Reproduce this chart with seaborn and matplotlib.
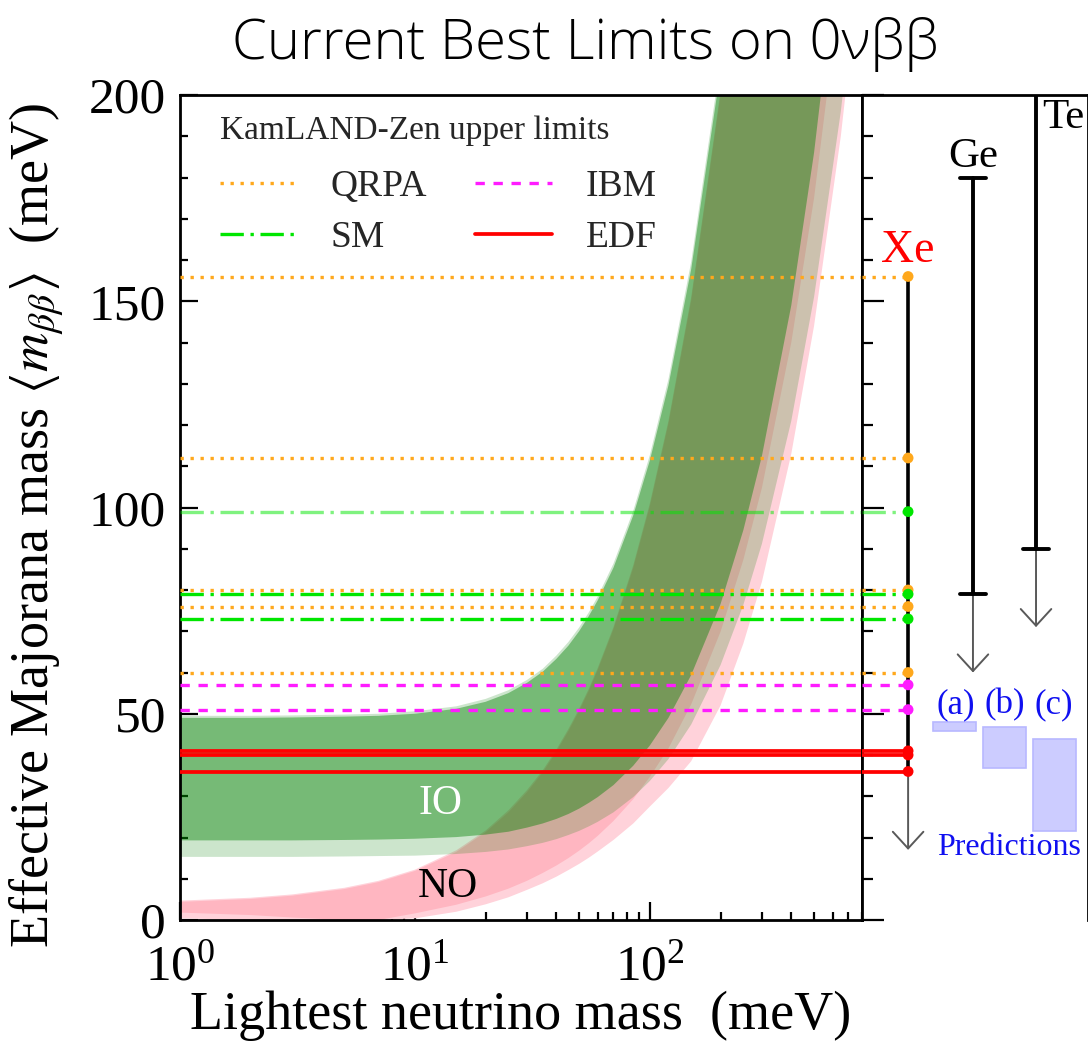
import matplotlib
matplotlib.use("Agg")
import matplotlib.pyplot as plt
from matplotlib.lines import Line2D
from matplotlib.patches import Rectangle
from matplotlib.ticker import MultipleLocator, LogLocator, NullFormatter
import pandas as pd
import seaborn as sns

# ---- band edges of <m_bb> vs lightest neutrino mass (meV) ----
m_lightest = [1, 2, 3, 5, 7, 10, 15, 20, 25, 30, 35, 40, 45, 50, 55, 60, 70, 85, 100, 120,
              150, 200, 250, 300, 400, 500, 650, 800]

io_upper_bf = [49.0, 49.0, 49.1, 49.3, 49.5, 50.0, 51.2, 52.9, 55.0, 57.5, 60.2, 63.3, 66.5,
               70.0, 73.7, 77.5, 85.4, 98.1, 111.4, 129.6, 157.8, 205.9, 254.8, 304.0, 403.0,
               502.4, 651.8, 801.5]
io_lower_bf = [19.3, 19.3, 19.3, 19.4, 19.5, 19.7, 20.1, 20.7, 21.4, 22.4, 23.4, 24.5, 25.7,
               27.0, 28.4, 29.8, 32.7, 37.4, 42.3, 49.0, 59.4, 76.6, 94.5, 112.5, 149.0,
               186.0, 241.0, 297.0]
io_upper_3s = [49.5, 49.5, 49.6, 49.8, 50.0, 50.6, 51.8, 53.6, 55.7, 58.2, 60.9, 64.1, 67.4,
               70.9, 74.6, 78.4, 86.4, 99.2, 112.7, 131.1, 159.6, 208.2, 257.6, 307.3, 407.5,
               508.0, 659.0, 811.0]
io_lower_3s = [15.3, 15.3, 15.3, 15.4, 15.5, 15.6, 16.0, 16.5, 17.1, 17.9, 18.7, 19.6, 20.6,
               21.6, 22.7, 23.8, 26.1, 29.8, 33.7, 39.0, 47.4, 61.8, 76.4, 91.2, 121.0,
               151.0, 196.0, 241.0]

no_upper_bf = [4.4, 5.1, 5.9, 7.5, 9.2, 11.9, 16.5, 21.3, 26.1, 31.0, 35.8, 40.8, 45.8,
               50.7, 55.6, 60.6, 70.5, 85.4, 100.3, 120.3, 150.2, 200.1, 250.0, 300.0, 400.0,
               500.0, 650.0, 800.0]
no_lower_bf = [1.8, 1.2, 0.6, 0.0, 0.0, 1.6, 3.7, 5.7, 7.6, 9.5, 11.4, 13.2, 15.0,
               16.8, 18.6, 20.4, 24.0, 29.3, 34.7, 41.6, 52.3, 69.9, 87.3, 104.8, 140.0,
               175.0, 227.0, 280.0]
no_upper_3s = [4.7, 5.4, 6.2, 7.8, 9.5, 12.2, 16.9, 21.7, 26.6, 31.5, 36.3, 41.3, 46.3,
               51.2, 56.1, 61.1, 71.0, 86.0, 101.0, 121.0, 151.0, 201.0, 251.0, 301.0, 401.0,
               501.0, 651.0, 801.0]
no_lower_3s = [0.4, 0.0, 0.0, 0.0, 0.0, 0.4, 2.0, 3.8, 5.5, 7.3, 8.9, 10.5, 12.1,
               13.6, 15.1, 16.6, 19.4, 23.4, 27.5, 32.0, 38.5, 52.0, 67.0, 82.0, 113.0,
               144.0, 190.0, 236.0]

# ---- KamLAND-Zen upper limits (meV) for each nuclear-matrix-element model ----
models = ["QRPA", "SM", "IBM", "EDF"]
qrpa_limits = [156, 112, 80, 76, 60]
sm_limits = [99, 79, 73]
ibm_limits = [57, 51]
edf_limits = [41, 40, 36]

# ---- other isotopes (meV) ----
ge_range = [180, 79]
ge_arrow_end = 60
te_range = [200, 90]
te_arrow_end = 71
xe_arrow_end = 17

# ---- model predictions (meV) ----
pred_labels = ["(a)", "(b)", "(c)"]
pred_low = [45.9, 36.9, 21.6]
pred_high = [48.0, 46.9, 43.9]

# ---------------------------------------------------------------
sns.set_theme(style="ticks")
plt.rcParams["font.family"] = ["Liberation Serif", "DejaVu Serif"]
plt.rcParams["mathtext.fontset"] = "stix"
plt.rcParams["axes.linewidth"] = 2.0

colors = {"QRPA": "#ffa81c", "SM": "#00e600", "IBM": "#ff1cff", "EDF": "#ff0000"}
styles = {
    "QRPA": dict(ls=(0, (1, 2)), lw=2.4),
    "SM": dict(ls=(0, (7, 2, 1, 2)), lw=2.4),
    "IBM": dict(ls=(0, (2.8, 2.6)), lw=2.4),
    "EDF": dict(ls="-", lw=2.7),
}
limits = {"QRPA": qrpa_limits, "SM": sm_limits, "IBM": ibm_limits, "EDF": edf_limits}
line_alpha = {"SM": [0.5, 1, 1]}

W, H = 1088, 1043
fig = plt.figure(figsize=(W / 100, H / 100), dpi=100)
fig.patch.set_facecolor("white")
x0, x1, xr, ytop, ybot = 180, 862, 1088, 95, 920
ax = fig.add_axes([x0 / W, 1 - ybot / H, (x1 - x0) / W, (ybot - ytop) / H])
axr = fig.add_axes([x1 / W, 1 - ybot / H, (xr - x1) / W, (ybot - ytop) / H])
for a in (ax, axr):
    a.set_facecolor("white")
    a.set_ylim(0, 200)

# ---- allowed bands ----
ax.set_xscale("log")
ax.set_xlim(1, 800)
ax.fill_between(m_lightest, no_lower_3s, no_upper_3s, color="#ffd2da", lw=0, zorder=1)
ax.fill_between(m_lightest, no_lower_bf, no_upper_bf, color="#ffb6c1", lw=0, zorder=1.1)
ax.fill_between(m_lightest, io_lower_3s, io_upper_3s, color="green", alpha=0.2, lw=0, zorder=1.2)
ax.fill_between(m_lightest, io_lower_bf, io_upper_bf, color="green", alpha=0.42, lw=0, zorder=1.3)
ax.text(12.9, 28.1, "IO", color="white", fontsize=30, ha="center", va="center", zorder=2)
ax.text(13.8, 8.0, "NO", color="black", fontsize=30, ha="center", va="center", zorder=2)

# ---- limit lines, continued into the side panel up to the Xe marker ----
xe_x, ge_x, te_x = 0.204, 0.491, 0.770
rows = []
for name in models:
    for i, v in enumerate(limits[name]):
        al = line_alpha.get(name, [1] * len(limits[name]))[i]
        ax.axhline(v, color=colors[name], alpha=al, zorder=3, **styles[name])
        axr.plot([0, xe_x], [v, v], color=colors[name], alpha=al, zorder=3,
                 solid_capstyle="butt", **styles[name])
        rows.append({"x": xe_x, "limit": v, "model": name})
dots = pd.DataFrame(rows)

handles = [Line2D([], [], color=colors[n], **styles[n]) for n in models]
leg = ax.legend(handles, models, ncol=2, loc="upper left", bbox_to_anchor=(0.058, 0.975),
                frameon=False, fontsize=27, title="KamLAND-Zen upper limits",
                title_fontsize=24, alignment="left", borderpad=0, borderaxespad=0,
                handlelength=2.05, handletextpad=0.9, columnspacing=1.3, labelspacing=0.44)
leg._legend_box.sep = 17  # extra room between the title and the entries

# ---- axes styling ----
ax.yaxis.set_major_locator(MultipleLocator(50))
ax.yaxis.set_minor_locator(MultipleLocator(10))
ax.xaxis.set_major_locator(LogLocator(base=10))
ax.xaxis.set_minor_locator(LogLocator(base=10, subs=range(2, 10)))
ax.xaxis.set_minor_formatter(NullFormatter())
ax.tick_params(which="both", direction="in", top=False, right=False, width=1.6,
               color="black", labelsize=37, labelcolor="black")
ax.tick_params(which="major", length=13)
ax.tick_params(which="minor", length=6)
ax.tick_params(axis="y", pad=10)
ax.tick_params(axis="x", pad=17)
for s in ax.spines.values():
    s.set_color("black")
    s.set_linewidth(2.0)
ax.set_ylabel(r"Effective Majorana mass $\langle m_{\beta\beta}\rangle$  (meV)",
              fontsize=39, color="black")
ax.yaxis.set_label_coords(-0.167, 0.478)
ax.set_xlabel("Lightest neutrino mass  (meV)", fontsize=39, color="black", labelpad=0)

# ---- side panel ----
axr.set_xlim(0, 1)
axr.set_xticks([])
axr.yaxis.set_major_locator(MultipleLocator(50))
axr.yaxis.set_minor_locator(MultipleLocator(10))
axr.tick_params(axis="y", which="both", direction="in", left=True, right=False,
                labelleft=False, width=1.6, color="black")
axr.tick_params(axis="y", which="major", length=16)
axr.tick_params(axis="y", which="minor", length=8)
axr.spines["bottom"].set_visible(False)
for s in axr.spines.values():
    s.set_color("black")
    s.set_linewidth(2.0)

arrow_kw = dict(arrowstyle="->,head_length=0.6,head_width=0.55", color="0.35",
                lw=1.4, shrinkA=0, shrinkB=0, mutation_scale=20)

# Xe
all_limits = qrpa_limits + sm_limits + ibm_limits + edf_limits
axr.plot([xe_x, xe_x], [max(all_limits), min(all_limits)], color="black", lw=2.6, zorder=4)
axr.annotate("", xy=(xe_x, xe_arrow_end), xytext=(xe_x, min(all_limits)), arrowprops=arrow_kw)
sns.scatterplot(data=dots, x="x", y="limit", hue="model", palette=colors, s=60,
                edgecolor="none", legend=False, zorder=5, ax=axr, clip_on=False)
axr.text(xe_x, 159.5, "Xe", color="red", fontsize=33, ha="center", va="baseline")
axr.set_xlabel("")
axr.set_ylabel("")

# Ge
axr.plot([ge_x, ge_x], ge_range, color="black", lw=2.8, zorder=4)
for v in ge_range:
    axr.plot([ge_x - 0.058, ge_x + 0.058], [v, v], color="black", lw=2.8, zorder=4)
axr.annotate("", xy=(ge_x, ge_arrow_end), xytext=(ge_x, ge_range[1]), arrowprops=arrow_kw)
axr.text(ge_x, 182.5, "Ge", color="black", fontsize=31, ha="center", va="baseline")

# Te
axr.plot([te_x, te_x], te_range, color="black", lw=2.8, zorder=4)
axr.plot([te_x - 0.058, te_x + 0.058], [te_range[1]] * 2, color="black", lw=2.8, zorder=4)
axr.annotate("", xy=(te_x, te_arrow_end), xytext=(te_x, te_range[1]), arrowprops=arrow_kw)
axr.text(0.796, 192, "Te", color="black", fontsize=31, ha="left", va="baseline")

# predictions
box_x = [(0.314, 0.504), (0.535, 0.726), (0.757, 0.947)]
label_x = [0.416, 0.632, 0.85]
for (bx0, bx1), lo, hi, lab, lx in zip(box_x, pred_low, pred_high, pred_labels, label_x):
    axr.add_patch(Rectangle((bx0, lo), bx1 - bx0, hi - lo, facecolor=(0.8, 0.8, 1.0),
                            edgecolor=(0.72, 0.72, 1.0), lw=1.2, zorder=2))
    axr.text(lx, 52.1, lab, color="#1010f0", fontsize=25, ha="center", va="center")
axr.text(0.65, 17.5, "Predictions", color="#1010f0", fontsize=23, ha="center", va="center")

# ---- title ----
fig.text(0.538, 0.957, "Current Best Limits on 0νββ", ha="center", va="center",
         fontsize=40.5, color="black", fontweight="light",
         family=["Open Sans", "DejaVu Sans"])

fig.savefig("out.png", dpi=100, facecolor="white")
